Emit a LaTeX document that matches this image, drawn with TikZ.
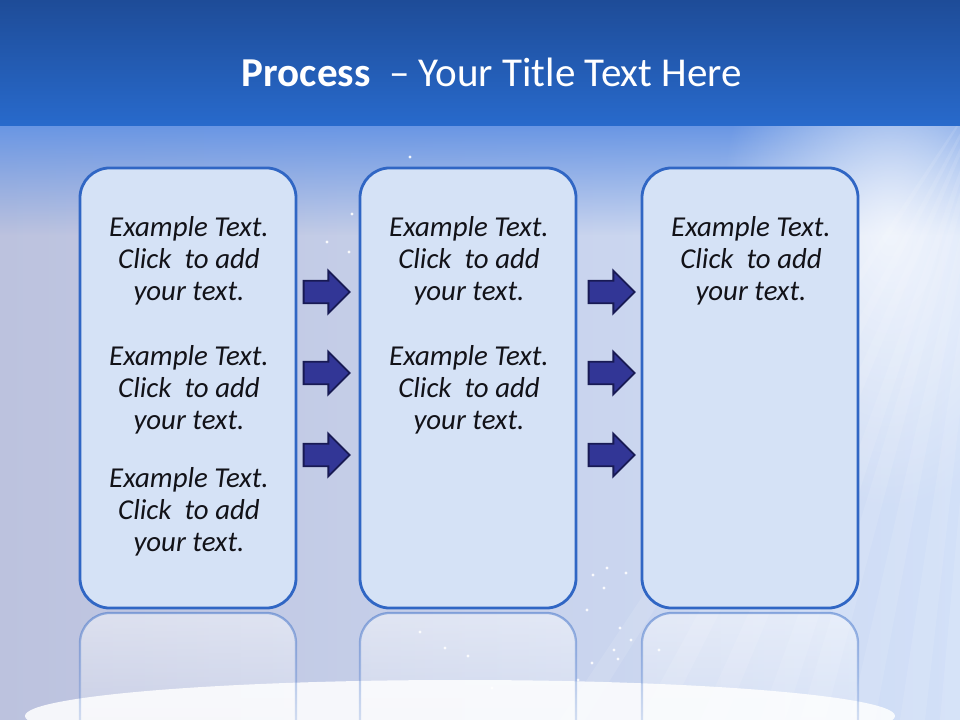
\documentclass[tikz,border=0pt]{standalone}
\usepackage{fontspec}
\setmainfont{Carlito}
\usetikzlibrary{shapes.arrows,fadings}
\definecolor{barTop}{RGB}{30,76,152}
\definecolor{barBot}{RGB}{40,106,204}
\definecolor{bgLeft}{RGB}{188,194,222}
\definecolor{bgRight}{RGB}{210,224,248}
\definecolor{bandBlue}{RGB}{105,150,228}
\definecolor{boxFill}{RGB}{213,226,246}
\definecolor{boxLine}{RGB}{48,102,196}
\definecolor{arrowFill}{RGB}{50,54,150}
\definecolor{arrowLine}{RGB}{24,26,84}
\definecolor{inkText}{RGB}{18,18,24}
\tikzfading[name=fadedown, top color=transparent!0, bottom color=transparent!100]
\tikzfading[name=reflfade, top color=transparent!20, bottom color=transparent!70]
\tikzfading[name=glow, inner color=transparent!0, outer color=transparent!100]
\newcommand\boxtext{Example Text.\\Click\ \ to add\\your text.}
\begin{document}
\begin{tikzpicture}[x=0.025cm,y=-0.025cm,
  procbox/.style={draw=boxLine,line width=2pt,fill=boxFill,rounded corners=0.75cm,minimum width=5.4cm,minimum height=11cm},
  reflbox/.style={draw=boxLine,line width=1.6pt,fill=white,fill opacity=.35,opacity=.6,rounded corners=0.75cm,path fading=reflfade},
  flow/.style={single arrow,draw=arrowLine,fill=arrowFill,line width=1.3pt,inner sep=0.26cm,single arrow head extend=0.25cm,minimum height=1.15cm},
  boxtxt/.style={align=center,text=inkText,font=\fontsize{20.5}{22.9}\selectfont\itshape},
  every node/.style={inner sep=0pt}]
\useasboundingbox (0,0) rectangle (960,720);
% background
\shade[left color=bgLeft,right color=bgRight] (0,125) rectangle (960,720);
\fill[bandBlue,path fading=fadedown] (0,125) rectangle (960,235);
\fill[white,opacity=.7,path fading=glow] (890,230) ellipse (170 and 280);
\foreach \a in {560,640,700,760,800,850,900,940} {\fill[white,opacity=.10] (1000,60) -- (\a,720) -- (\a+25,720) -- cycle;}
\fill[white,opacity=.85] (460,716) ellipse (435 and 36);
\foreach \p in {(327,242),(349,252),(352,214),(410,157),(593,575),(607,568),(626,573),(604,588),(587,610),(620,628),(631,640),(614,650),(618,659),(592,663),(578,680),(659,650),(420,632),(445,648),(468,656),(492,688)} {\fill[white,opacity=.9] \p circle (1.6);}
% title bar
\shade[top color=barTop,bottom color=barBot] (0,0) rectangle (960,126);
\node[anchor=base,text=white,font=\fontsize{29.2}{34}\selectfont] (title) at (492,87) {\textbf{Process}\ \ – Your Title Text Here};
% reflections
\foreach \x in {80,360,642} {\draw[reflbox] (\x,722) -- (\x,613) -- (\x+216,613) -- (\x+216,722);}
% boxes
\foreach \n/\x in {1/188,2/468,3/750} {\node[procbox] (box\n) at (\x,388) {};}
% texts
\foreach \nm/\x/\y in {t1a/189/261,t1b/189/390,t1c/189/512,t2a/469/261,t2b/469/390,t3a/751/261} {\node[boxtxt] (\nm) at (\x,\y) {\boxtext};}
% arrows
\foreach \y [count=\k] in {292,373,455} {\node[flow] (fa\k) at (321,\y) {}; \node[flow] (fb\k) at (606,\y) {};}
\end{tikzpicture}
\end{document}
